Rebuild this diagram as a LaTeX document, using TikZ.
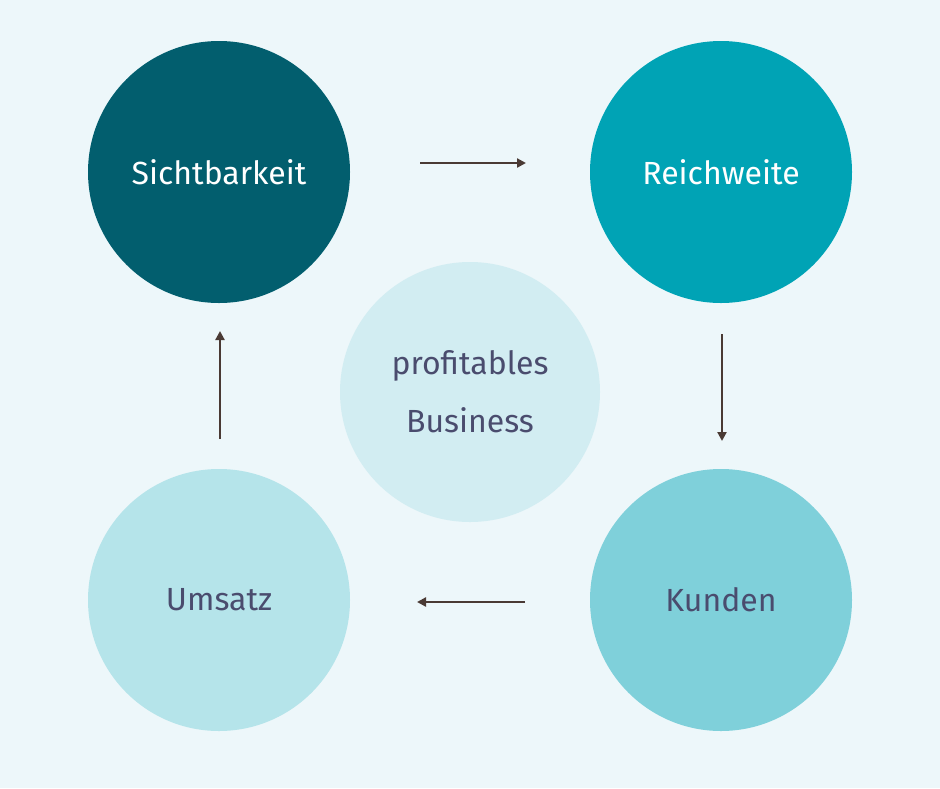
\documentclass[tikz,border=0pt]{standalone}
\usepackage{fontspec}
\setmainfont{Fira Sans}
\usetikzlibrary{arrows.meta}
\definecolor{bg}{HTML}{EDF7FA}
\definecolor{cA}{HTML}{025E6E}
\definecolor{cB}{HTML}{00A3B5}
\definecolor{cC}{HTML}{7FD0DA}
\definecolor{cD}{HTML}{B5E4EA}
\definecolor{cE}{HTML}{D2EDF2}
\definecolor{txt}{HTML}{4A4C6E}
\definecolor{arr}{HTML}{4A3A34}
\tikzset{
 circ/.style={circle,minimum size=262pt,inner sep=0pt,font=\fontsize{32}{38}\selectfont},
 conn/.style={draw=arr,line width=2.2pt,-{Triangle[length=9pt,width=9pt]}}
}
\begin{document}
\begin{tikzpicture}[x=1pt,y=-1pt]
\fill[bg] (0,0) rectangle (940,788);
\node[circ,fill=cA,text=white] (s) at (219,172) {Sichtbarkeit};
\node[circ,fill=cB,text=white] (r) at (721,172) {Reichweite};
\node[circ,fill=cC,text=txt] (k) at (721,600) {Kunden};
\node[circ,fill=cD,text=txt] (u) at (219,600) {Umsatz};
\node[circ,fill=cE,text=txt,minimum size=260pt,align=center,font=\fontsize{32}{58}\selectfont] (p) at (470,392) {profitables\\Business};
\coordinate (a1) at (420,163); \coordinate (a2) at (526,163);
\coordinate (b1) at (722,334); \coordinate (b2) at (722,441);
\coordinate (c1) at (525,602); \coordinate (c2) at (417,602);
\coordinate (d1) at (220,439); \coordinate (d2) at (220,331);
\draw[conn] (a1) -- (a2);
\draw[conn] (b1) -- (b2);
\draw[conn] (c1) -- (c2);
\draw[conn] (d1) -- (d2);
\end{tikzpicture}
\end{document}
